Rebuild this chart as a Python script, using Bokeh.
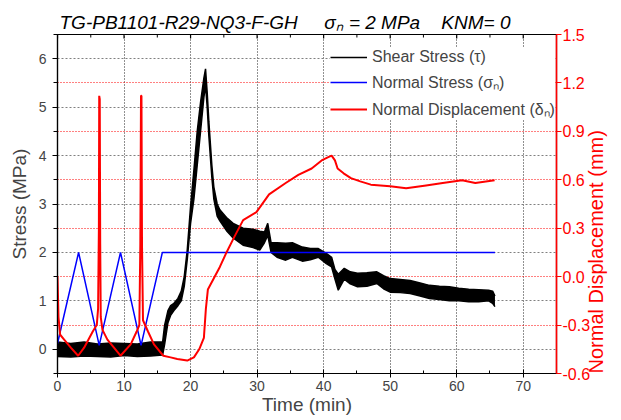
import math
from bokeh.plotting import figure
from bokeh.models import (Range1d, LinearAxis, Grid, FixedTicker, Legend, LegendItem,
                          NumeralTickFormatter)
from bokeh.embed import file_html
from bokeh.resources import INLINE

# ---------------- data ----------------
x_ticks = [0, 10, 20, 30, 40, 50, 60, 70]
x_minor = [5, 15, 25, 35, 45, 55, 65]
stress_ticks = [0, 1, 2, 3, 4, 5, 6]
stress_minor = [-0.5, 0.5, 1.5, 2.5, 3.5, 4.5, 5.5, 6.5]
disp_ticks = [-0.6, -0.3, 0.0, 0.3, 0.6, 0.9, 1.2, 1.5]

# shear stress: noisy band -> upper / lower envelopes (MPa)
time_tau = [0, 2, 4, 6, 8, 10, 12, 14, 15.8, 16.1, 16.6, 17.0, 17.5, 18.1, 18.6, 19.05,
            19.5, 20.0, 20.5, 21.0, 21.5, 22.0, 22.25, 22.5, 22.75, 23.2, 23.5, 24.0,
            24.4, 25.4, 26.4, 27.9, 29.4, 30.4, 31.1, 31.6, 32.1, 33.0, 34.3, 35.3,
            36.8, 38.0, 39.2, 40.4, 41.2, 41.7, 42.2, 43.1, 44.0, 45.1, 46.5, 48.0,
            49.0, 50.0, 51.5, 53.0, 54.5, 55.9, 57.4, 58.9, 60.3, 61.8, 63.3, 64.8,
            65.4, 65.75]
tau_upper = [0.15, 0.12, 0.15, 0.11, 0.13, 0.12, 0.11, 0.15, 0.15, 0.5, 0.8, 0.9, 0.95,
             1.05, 1.2, 1.5, 2.05, 2.95, 3.7, 4.5, 5.1, 5.6, 5.79, 5.3, 4.7, 3.8, 3.35,
             3.0, 2.88, 2.72, 2.6, 2.5, 2.48, 2.44, 2.42, 2.6, 2.2, 2.2, 2.19, 2.2, 2.11,
             2.08, 2.08, 1.98, 1.9, 1.65, 1.55, 1.67, 1.6, 1.57, 1.58, 1.6, 1.52, 1.46,
             1.44, 1.42, 1.37, 1.32, 1.3, 1.29, 1.26, 1.24, 1.23, 1.22, 1.2, 1.1]
tau_lower = [-0.15, -0.16, -0.14, -0.15, -0.16, -0.13, -0.15, -0.14, -0.12, 0.1, 0.55,
             0.7, 0.8, 0.9, 1.0, 1.3, 1.85, 2.6, 3.1, 3.8, 4.5, 5.2, 5.45, 5.0, 4.4,
             3.55, 3.1, 2.75, 2.65, 2.45, 2.3, 2.15, 2.1, 2.05, 2.2, 2.35, 2.0, 1.9, 1.84,
             1.9, 1.82, 1.85, 1.9, 1.77, 1.7, 1.45, 1.22, 1.45, 1.35, 1.29, 1.3, 1.36,
             1.25, 1.18, 1.17, 1.15, 1.1, 1.05, 1.03, 1.0, 1.0, 0.98, 0.98, 1.0, 0.95,
             0.88]

# normal stress (MPa)
time_sigma = [0, 3.17, 6.27, 9.47, 12.56, 15.76, 65.75]
sigma_n = [0.12, 2.0, 0.08, 2.0, 0.08, 2.0, 2.0]

# normal displacement (mm)
time_disp = [0, 0.15, 0.4, 1.0, 2.0, 3.1, 4.0, 5.3, 5.9, 6.1, 6.22, 6.27, 6.35, 6.42,
             6.5, 6.76, 7.5, 9.47, 11.0, 11.9, 12.3, 12.45, 12.55, 12.62, 12.7, 12.85,
             13.6, 14.5, 15.9, 17.0, 18.0, 19.5, 20.5, 21.3, 22.0, 22.3, 22.6, 23.5,
             24.4, 25.4, 26.5, 27.9, 29.9, 31.8, 34.3, 36.2, 38.2, 39.7, 40.7, 41.2,
             41.7, 42.1, 43.0, 44.1, 45.5, 47.1, 50.0, 52.4, 55.4, 57.9, 60.8, 62.8,
             65.7]
disp = [0.0, -0.25, -0.36, -0.39, -0.44, -0.49, -0.44, -0.34, -0.3, -0.2, 0.3, 1.12,
        1.1, 0.2, -0.25, -0.33, -0.39, -0.49, -0.42, -0.34, -0.3, 0.2, 1.12, 1.12, 0.2,
        -0.27, -0.34, -0.42, -0.49, -0.5, -0.51, -0.52, -0.5, -0.45, -0.38, -0.2,
        -0.08, -0.01, 0.06, 0.15, 0.24, 0.35, 0.40, 0.51, 0.58, 0.63, 0.67, 0.72, 0.74,
        0.75, 0.72, 0.67, 0.64, 0.61, 0.59, 0.57, 0.56, 0.547, 0.565, 0.58, 0.597,
        0.58, 0.597]

NB = "\u00a0"
title_text = ("TG-PB1101-R29-NQ3-F-GH" + NB * 5 + "\u03c3\u2099 = 2 MPa" + NB * 4 + "KNM= 0")

FONT = "Liberation Sans"
X0, X1 = 0, 75
Y0, Y1 = -0.5, 6.5
D0, D1 = -0.6, 1.5

p = figure(width=621, height=420, output_backend="svg", toolbar_location=None,
           x_range=Range1d(X0, X1), y_range=Range1d(Y0, Y1),
           min_border_left=57, min_border_right=55, min_border_top=34,
           min_border_bottom=47)
p.extra_y_ranges = {"disp": Range1d(D0, D1)}
p.outline_line_color = "black"
p.outline_line_width = 1.2

p.title.text = title_text
p.title.text_font = FONT
p.title.text_font_size = "19px"
p.title.text_font_style = "italic"
p.title.text_color = "black"
p.title.align = "left"
p.title.offset = 2
p.title.standoff = 4

# ---------------- axes ----------------
xt = FixedTicker(ticks=x_ticks, minor_ticks=x_minor)
xa = p.xaxis[0]
xa.ticker = xt
xa.axis_label = "Time (min)"
xa.axis_label_text_font = FONT
xa.axis_label_text_font_size = "19px"
xa.axis_label_text_font_style = "normal"
xa.axis_label_standoff = 0
xa.major_label_text_font = FONT
xa.major_label_text_font_size = "14px"
xa.major_label_standoff = 3
xa.major_tick_in = 4
xa.major_tick_out = 4
xa.minor_tick_in = 3
xa.minor_tick_out = 0
xa.axis_line_width = 1.2

ya = p.yaxis[0]
ya.ticker = FixedTicker(ticks=stress_ticks, minor_ticks=stress_minor)
ya.axis_label = "Stress (MPa)"
ya.axis_label_text_font = FONT
ya.axis_label_text_font_size = "19px"
ya.axis_label_text_font_style = "normal"
ya.axis_label_standoff = 6
ya.major_label_text_font = FONT
ya.major_label_text_font_size = "14px"
ya.major_label_standoff = 6
ya.major_tick_in = 0
ya.major_tick_out = 5
ya.minor_tick_in = 0
ya.minor_tick_out = 4
ya.axis_line_width = 1.2

ra = LinearAxis(y_range_name="disp", ticker=FixedTicker(ticks=disp_ticks),
                formatter=NumeralTickFormatter(format="0.0"))
ra.axis_line_color = "red"
ra.axis_line_width = 1.6
ra.major_tick_line_color = "red"
ra.major_tick_in = 0
ra.major_tick_out = 5
ra.minor_tick_line_color = None
ra.major_label_text_color = "red"
ra.major_label_text_font = FONT
ra.major_label_text_font_size = "16px"
ra.major_label_standoff = 1
ra.axis_label = "Normal Displacement (mm)"
ra.axis_label_text_color = "red"
ra.axis_label_text_font = FONT
ra.axis_label_text_font_size = "20px"
ra.axis_label_text_font_style = "normal"
ra.axis_label_standoff = 3
if hasattr(ra, "axis_label_orientation"):
    ra.axis_label_orientation = math.pi / 2
if hasattr(ra, "axis_label_align"):
    ra.axis_label_align = "start"
p.add_layout(ra, "right")

# ---------------- grids ----------------
p.xgrid.ticker = xt
p.xgrid.grid_line_color = "#222222"
p.xgrid.grid_line_dash = "1 2"
p.xgrid.grid_line_width = 1
p.ygrid.ticker = FixedTicker(ticks=stress_ticks)
p.ygrid.grid_line_color = "#808080"
p.ygrid.grid_line_dash = "2 2"
p.ygrid.grid_line_width = 1
rg = Grid(dimension=1, y_range_name="disp", ticker=FixedTicker(ticks=disp_ticks),
          grid_line_color="red", grid_line_dash="1 2", grid_line_width=1)
p.add_layout(rg)

# tick marks along the top frame edge (at the x tick positions)
px_per_unit = 339 / (Y1 - Y0)
p.segment(x0=x_ticks, y0=[Y1] * len(x_ticks), x1=x_ticks,
          y1=[Y1 - 4 / px_per_unit] * len(x_ticks), line_color="black", line_width=1.2)
p.segment(x0=x_minor, y0=[Y1] * len(x_minor), x1=x_minor,
          y1=[Y1 - 3 / px_per_unit] * len(x_minor), line_color="black", line_width=1)

# ---------------- data ----------------
p.varea(x=time_tau, y1=tau_lower, y2=tau_upper, fill_color="black")
r_tau = p.line(time_tau, tau_upper, line_color="black", line_width=1.5)
p.line(time_tau, tau_lower, line_color="black", line_width=1.5)
r_sig = p.line(time_sigma, sigma_n, line_color="#0000ff", line_width=1.5)
r_disp = p.line(time_disp, disp, line_color="#ff0000", line_width=2, y_range_name="disp")

legend = Legend(items=[LegendItem(label="Shear Stress (\u03c4)", renderers=[r_tau]),
                       LegendItem(label="Normal Stress (\u03c3\u2099)", renderers=[r_sig]),
                       LegendItem(label="Normal Displacement (\u03b4\u2099)", renderers=[r_disp])],
                location=(273, 253), border_line_color=None, background_fill_alpha=1,
                label_text_font=FONT, label_text_font_size="16px", glyph_width=37,
                glyph_height=18, label_height=18, spacing=5, padding=4, margin=0,
                label_standoff=5)
p.add_layout(legend, "center")

open("out.html", "w").write(file_html(p, INLINE))
